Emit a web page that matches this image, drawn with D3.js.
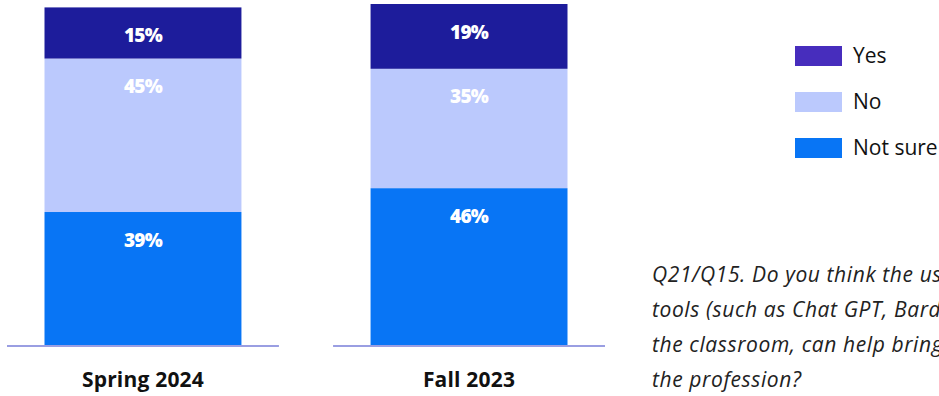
<!DOCTYPE html>
<html><head><meta charset="utf-8">
<script src="https://cdn.jsdelivr.net/npm/d3@7"></script>
<style>
html,body{margin:0;padding:0;background:#fff;overflow:hidden}
svg{display:block}
</style></head>
<body>
<svg id="c" width="939" height="396"></svg>
<script>
const categories = ["Spring 2024", "Fall 2023"];
const yesValues = [15, 19];
const noValues = [45, 35];
const notSureValues = [39, 46];
const seriesNames = ["Not sure", "No", "Yes"];
const legendNames = ["Yes", "No", "Not sure"];
const noteLines = [
  "Q21/Q15. Do you think the use of AI",
  "tools (such as Chat GPT, Bard, etc.) in",
  "the classroom, can help bring new teachers into",
  "the profession?"
];

const barColors = {"Yes": "#1d1c9b", "No": "#bbc9fd", "Not sure": "#0875f5"};
const legendColors = {"Yes": "#472dbd", "No": "#bbc9fd", "Not sure": "#0875f5"};
const font = "'Open Sans', sans-serif";

const rows = categories.map((c, i) => ({cat: c, "Yes": yesValues[i], "No": noValues[i], "Not sure": notSureValues[i]}));
const stacked = d3.stack().keys(seriesNames)(rows);

const svg = d3.select("#c");
const x = d3.scaleBand().domain(categories).range([7, 605]).paddingInner(0.166).paddingOuter(0);
const y = d3.scaleLinear().domain([0, 100]).range([345, 4]);
const inset = 37.5;

const g = svg.append("g");
stacked.forEach(layer => {
  const key = layer.key;
  g.selectAll(null).data(layer).enter().append("rect")
    .attr("x", d => x(d.data.cat) + inset)
    .attr("width", x.bandwidth() - 2 * inset)
    .attr("y", d => y(d[1]))
    .attr("height", d => y(d[0]) - y(d[1]))
    .attr("fill", barColors[key]);
  g.selectAll(null).data(layer).enter().append("text")
    .attr("x", d => x(d.data.cat) + x.bandwidth() / 2)
    .attr("y", d => y(d[1]) + 28)
    .attr("dy", "0.35em")
    .attr("text-anchor", "middle")
    .attr("fill", "#fff")
    .attr("font-family", font)
    .attr("font-weight", 800)
    .attr("font-size", 19)
    .attr("letter-spacing", -0.8)
    .text(d => (d[1] - d[0]) + "%");
});

// baseline per category
g.selectAll(null).data(categories).enter().append("line")
  .attr("x1", d => x(d)).attr("x2", d => x(d) + x.bandwidth())
  .attr("y1", 346).attr("y2", 346)
  .attr("stroke", "#9a9ee2").attr("stroke-width", 2);

// category labels
g.selectAll(null).data(categories).enter().append("text")
  .attr("x", d => x(d) + x.bandwidth() / 2)
  .attr("y", 380).attr("dy", "0.35em")
  .attr("text-anchor", "middle")
  .attr("fill", "#111")
  .attr("font-family", font)
  .attr("font-weight", 700)
  .attr("font-size", 21)
  .attr("letter-spacing", 0.2)
  .text(d => d);

// legend
const leg = svg.append("g").attr("transform", "translate(795,46)");
legendNames.forEach((n, i) => {
  leg.append("rect").attr("x", 0).attr("y", i * 46).attr("width", 47).attr("height", 20).attr("fill", legendColors[n]);
  leg.append("text").attr("x", 58).attr("y", i * 46 + 10).attr("dy", "0.35em")
    .attr("font-family", font).attr("font-size", 21).attr("fill", "#111").text(n);
});

// note
const note = svg.append("text").attr("font-family", font).attr("font-style", "italic")
  .attr("font-size", 21).attr("letter-spacing", 0.6).attr("fill", "#222");
noteLines.forEach((l, i) => {
  note.append("tspan").attr("x", 652).attr("y", 275 + i * 35).attr("dy", "0.35em").text(l);
});
</script>
</body></html>
